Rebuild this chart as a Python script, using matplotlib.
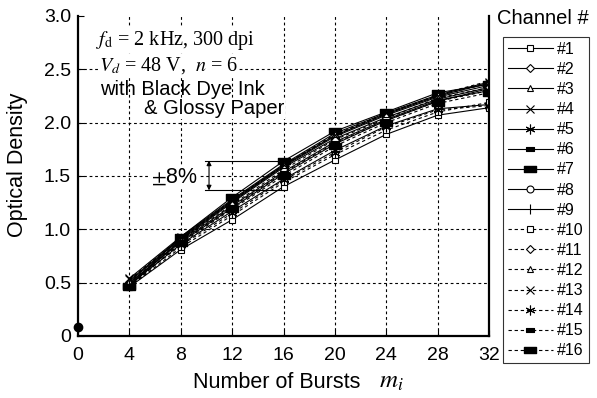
import numpy as np
import matplotlib.pyplot as plt
from matplotlib.path import Path

plt.rcParams['font.family'] = ['Liberation Sans', 'DejaVu Sans']
plt.rcParams['mathtext.fontset'] = 'stix'

bursts = [4, 8, 12, 16, 20, 24, 28, 32]
channels = ['#1', '#2', '#3', '#4', '#5', '#6', '#7', '#8',
            '#9', '#10', '#11', '#12', '#13', '#14', '#15', '#16']
density = [
    [0.46, 0.81, 1.09, 1.40, 1.65, 1.89, 2.07, 2.14],
    [0.50, 0.88, 1.20, 1.52, 1.80, 2.02, 2.20, 2.32],
    [0.52, 0.92, 1.27, 1.60, 1.88, 2.08, 2.25, 2.37],
    [0.54, 0.93, 1.28, 1.61, 1.90, 2.09, 2.26, 2.38],
    [0.48, 0.86, 1.17, 1.47, 1.74, 1.97, 2.13, 2.17],
    [0.47, 0.90, 1.25, 1.58, 1.85, 2.05, 2.22, 2.33],
    [0.47, 0.93, 1.30, 1.64, 1.92, 2.10, 2.28, 2.36],
    [0.49, 0.89, 1.22, 1.54, 1.82, 2.03, 2.21, 2.30],
    [0.51, 0.91, 1.26, 1.59, 1.87, 2.07, 2.24, 2.35],
    [0.46, 0.83, 1.13, 1.44, 1.70, 1.93, 2.10, 2.19],
    [0.50, 0.90, 1.23, 1.56, 1.84, 2.04, 2.23, 2.33],
    [0.52, 0.91, 1.26, 1.60, 1.89, 2.08, 2.26, 2.39],
    [0.53, 0.92, 1.27, 1.60, 1.88, 2.09, 2.25, 2.37],
    [0.48, 0.85, 1.15, 1.46, 1.72, 1.96, 2.12, 2.16],
    [0.46, 0.88, 1.21, 1.53, 1.81, 2.02, 2.20, 2.30],
    [0.46, 0.87, 1.19, 1.50, 1.78, 2.00, 2.18, 2.28],
]
zero_point = (0, 0.08)
spread_hi, spread_lo = 1.645, 1.365

# marker shapes
rect = Path([(-1, -0.5), (1, -0.5), (1, 0.5), (-1, 0.5), (-1, -0.5)],
            [Path.MOVETO, Path.LINETO, Path.LINETO, Path.LINETO, Path.CLOSEPOLY])
styles = [
    dict(marker='s', ms=5, mfc='white'),
    dict(marker='D', ms=4, mfc='white'),
    dict(marker='^', ms=5, mfc='white'),
    dict(marker='x', ms=6),
    dict(marker=(6, 2, 0), ms=7),
    dict(marker=rect, ms=6, mfc='black'),
    dict(marker=rect, ms=8, mfc='black', mew=1.0),
    dict(marker='o', ms=5, mfc='white'),
    dict(marker='|', ms=7),
]

fig = plt.figure(figsize=(5.97, 3.98), dpi=100)
ax = fig.add_axes([0.1307, 0.1558, 0.6884, 0.804])

handles = []
for i, (name, vals) in enumerate(zip(channels, density)):
    st = dict(mew=0.8)
    st.update(styles[i % 9])
    ls = '-' if i < 9 else (0, (3, 2.5))
    h, = ax.plot(bursts, vals, color='black', linestyle=ls, linewidth=0.8,
                 mec='black', label=name, **st)
    handles.append(h)

ax.plot(*zero_point, 'o', color='black', ms=6, clip_on=False, zorder=5)

ax.set_xlim(0, 32)
ax.set_ylim(0, 3.0)
ax.set_xticks(range(0, 33, 4))
ax.set_yticks([0, 0.5, 1.0, 1.5, 2.0, 2.5, 3.0])
ax.set_yticklabels(['0', '0.5', '1.0', '1.5', '2.0', '2.5', '3.0'])
ax.tick_params(direction='in', length=4, width=0.8, labelsize=14)
ax.tick_params(axis='x', pad=8)
ax.tick_params(axis='y', pad=5)

for x in range(4, 32, 4):
    ax.axvline(x, color='black', ls=(0, (2.5, 2.5)), lw=0.8, zorder=0)
for y in [0.5, 1.0, 1.5, 2.0, 2.5]:
    ax.axhline(y, color='black', ls=(0, (2.5, 2.5)), lw=0.8, zorder=0)

ax.spines['top'].set_visible(False)
for s in ['left', 'bottom', 'right']:
    ax.spines[s].set_linewidth(1.6)

fig.text(18 / 597, 1 - 165 / 398, 'Optical Density', fontsize=15.5,
         rotation=90, va='center', ha='center')
fig.text(193 / 597, 1 - 383 / 398, 'Number of Bursts', fontsize=15.5, va='center')
fig.text(379 / 597, 1 - 381 / 398, '$m_i$', fontsize=18, va='center')

# spread annotation
ax.plot([9.9, 16], [spread_hi, spread_hi], color='black', lw=0.8)
ax.plot([9.9, 16], [spread_lo, spread_lo], color='black', lw=0.8)
ax.annotate('', xy=(10.2, spread_lo), xytext=(10.2, spread_hi),
            arrowprops=dict(arrowstyle='<|-|>', color='black', lw=0.8,
                            mutation_scale=7, shrinkA=0, shrinkB=0))
ax.text(7.5, 1.49, '$\\pm$8%', fontsize=15.5, ha='center', va='center',
        bbox=dict(facecolor='white', edgecolor='none', pad=0.5))

# conditions text
ax.text(1.4, 2.77, '$f_{\\mathrm{d}}$ = 2 kHz, 300 dpi', fontsize=14.5,
        family='Liberation Serif', va='center', ha='left',
        bbox=dict(facecolor='white', edgecolor='none', pad=0.5))
ax.text(1.6, 2.54, '$V_d$ = 48 V,  $n$ = 6', fontsize=14.5,
        family='Liberation Serif', va='center', ha='left',
        bbox=dict(facecolor='white', edgecolor='none', pad=0.5))
ax.text(1.7, 2.31, 'with Black Dye Ink', fontsize=14.5, va='center', ha='left')
ax.text(5.1, 2.13, '& Glossy Paper', fontsize=14.5, va='center', ha='left',
        bbox=dict(facecolor='white', edgecolor='none', pad=0.5))

leg = fig.legend(handles=handles, loc='upper left',
                 bbox_to_anchor=(503 / 597, 1 - 37 / 398), fontsize=11.5,
                 frameon=True, fancybox=False, edgecolor='black',
                 handlelength=2.8, handletextpad=0.3, labelspacing=0.32,
                 borderpad=0.3, borderaxespad=0)
leg.get_frame().set_linewidth(0.8)
fig.text(497 / 597, 1 - 18 / 398, 'Channel #', fontsize=14.5, va='center', ha='left')

fig.savefig('out.png', dpi=100)
